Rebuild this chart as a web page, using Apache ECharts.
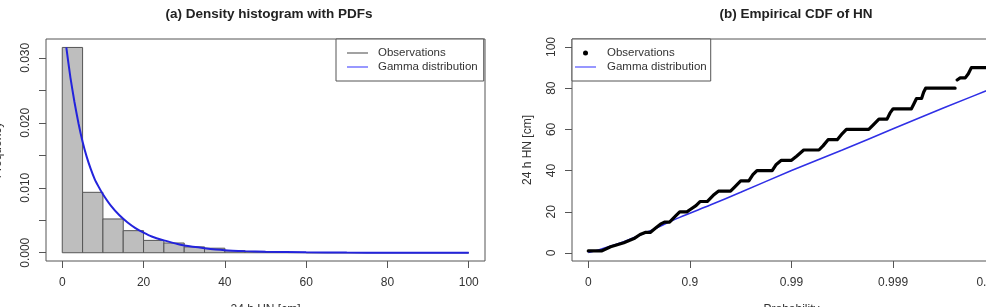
<!DOCTYPE html>
<html><head><meta charset="utf-8">
<script src="https://cdn.jsdelivr.net/npm/echarts@6/dist/echarts.min.js"></script>
<style>html,body{margin:0;padding:0;background:#fff;overflow:hidden}#c{width:986px;height:307px}</style>
</head><body><div id="c"></div>
<script>
// ---------- Panel (a): density histogram with PDFs ----------
const binStarts  = [0,5,10,15,20,25,30,35,40,45,50,55,60,65,70,75,80,85,90,95];
const binEnds    = [5,10,15,20,25,30,35,40,45,50,55,60,65,70,75,80,85,90,95,100];
const binDensity = [0.0316,0.0093,0.0052,0.0034,0.0019,0.0015,0.0009,0.0007,0.0003,0.0002,0.0001,0.00005,0,0,0,0,0,0,0,0];
const pdfX = [1,2,3,4,5,6,7,8,9,10,12,14,16,18,20,22,25,28,30,35,40,45,50,60,70,80,90,100];
const pdfY = [0.0316,0.0270,0.0232,0.0199,0.0171,0.0148,0.0129,0.0113,0.0101,0.0090,0.0072,0.0058,0.0047,0.0038,0.0031,0.0025,0.0019,0.0014,0.0011,0.0007,0.0004,0.00025,0.00015,0.00006,0.00002,0.00001,0,0];
const histXTicks = [0,20,40,60,80,100];
const histYTicks = [0,0.005,0.010,0.015,0.020,0.025,0.030];
const histYLabels = [0,0.010,0.020,0.030];

// ---------- Panel (b): empirical CDF of HN (x = -log10(1-p)) ----------
const cdfT = [0,0.13,0.22,0.35,0.45,0.51,0.56,0.61,0.66,0.71,0.75,0.80,0.86,0.90,0.97,1.00,1.06,1.10,1.17,1.23,1.28,1.40,1.44,1.50,1.58,1.62,1.66,1.81,1.85,1.90,2.00,2.05,2.12,2.27,2.31,2.36,2.45,2.50,2.54,2.76,2.80,2.86,2.94,2.97,3.00,3.18,3.20,3.23,3.28,3.30,3.32,3.61,3.615,3.63,3.66,3.71,3.74,3.77,4.10];
const cdfV = [1,1,3,5,7,9,10,10,12,14,15,15,18,20,20,21,23,25,25,28,30,30,32,35,35,38,40,40,43,45,45,47,50,50,52,55,55,58,60,60,62,65,65,68,70,70,72,75,75,78,80,80,null,84,85,85,87,90,90];
const gammaT = [0,0.1,0.2,0.35,0.58,0.9,1.2,1.5,2.0,2.5,3.0,3.5,4.16];
const gammaV = [0.3,1.5,3.0,5.5,10.2,17.3,23.3,29.5,40.0,50.0,60.3,70.5,83.5];
const probTicks = [0,1,2,3,4];
const probTickLabels = ['0','0.9','0.99','0.999','0.9999'];
const hnTicks = [0,20,40,60,80,100];

const FONT = 'Liberation Sans, Arial, Helvetica, sans-serif';
const TXT = '#333';
const BOX = '#555';

const chart = echarts.init(document.getElementById('c'), null, {renderer: 'canvas'});

const lineIconDark = 'path://M0,0M26,14M0,6.5H21V7.5H0Z';
const lineIconBlueA = 'path://M0,0M26,14M0,6.2H21V7.8H0Z';
const dotIcon = 'path://M0,0M27,14M8,7A2.5,2.5,0,1,1,13,7A2.5,2.5,0,1,1,8,7Z';
const lineIconBlueB = 'path://M0,0M27,14M0,6.3H21V7.7H0Z';

function axisCommon() {
  return {
    type: 'value',
    axisLine: {show: false, onZero: false},
    splitLine: {show: false},
    nameTextStyle: {color: TXT, fontFamily: FONT, fontSize: 12},
    nameLocation: 'middle'
  };
}

const option = {
  animation: false,
  backgroundColor: '#fff',
  title: [
    {text: '(a) Density histogram with PDFs', left: 264, top: 2, textAlign: 'center',
     textStyle: {fontFamily: FONT, fontSize: 13.5, fontWeight: 'bold', color: '#222'}},
    {text: '(b) Empirical CDF of HN', left: 791, top: 2, textAlign: 'center',
     textStyle: {fontFamily: FONT, fontSize: 13.5, fontWeight: 'bold', color: '#222'}}
  ],
  grid: [
    {left: 46, top: 39, width: 439, height: 222, show: true, borderColor: BOX, borderWidth: 1, backgroundColor: 'transparent', outerBoundsMode: 'none'},
    {left: 572, top: 39, width: 439, height: 222, show: true, borderColor: BOX, borderWidth: 1, backgroundColor: 'transparent', outerBoundsMode: 'none'}
  ],
  legend: [
    {orient: 'vertical', left: 336, top: 39, itemWidth: 26, itemHeight: 14, itemGap: 0,
     padding: [7, 6, 7, 11], borderColor: BOX, borderWidth: 1, backgroundColor: '#fff',
     textStyle: {fontFamily: FONT, fontSize: 11.5, color: TXT}, selectedMode: false,
     data: [
       {name: 'Observations', icon: lineIconDark, itemStyle: {color: '#444', borderWidth: 0}},
       {name: 'Gamma distribution', icon: lineIconBlueA, itemStyle: {color: '#7f7fff', borderWidth: 0}}
     ]},
    {orient: 'vertical', left: 572, top: 39, itemWidth: 27, itemHeight: 14, itemGap: 0,
     padding: [7, 4, 7, 3], borderColor: BOX, borderWidth: 1, backgroundColor: '#fff',
     textStyle: {fontFamily: FONT, fontSize: 11.5, color: TXT}, selectedMode: false,
     data: [
       {name: 'Observations', icon: dotIcon, itemStyle: {color: '#000', borderWidth: 0}},
       {name: 'Gamma distribution', icon: lineIconBlueB, itemStyle: {color: '#6a6aff', borderWidth: 0}}
     ]}
  ],
  xAxis: [
    Object.assign(axisCommon(), {
      gridIndex: 0, min: -4, max: 104, name: '24 h HN [cm]', nameGap: 43,
      axisTick: {show: true, length: 7, lineStyle: {color: BOX}, customValues: histXTicks},
      axisLabel: {color: TXT, fontFamily: FONT, fontSize: 12, margin: 16, customValues: histXTicks}
    }),
    Object.assign(axisCommon(), {
      gridIndex: 1, min: -0.16, max: 4.16, name: 'Probability', nameGap: 43,
      axisTick: {show: true, length: 7, lineStyle: {color: BOX}, customValues: probTicks},
      axisLabel: {color: TXT, fontFamily: FONT, fontSize: 12, margin: 16, customValues: probTicks,
                  formatter: v => probTickLabels[probTicks.indexOf(Math.round(v))]}
    })
  ],
  yAxis: [
    Object.assign(axisCommon(), {
      gridIndex: 0, min: -0.00127, max: 0.0329, name: 'Frequency', nameGap: 42,
      axisTick: {show: true, length: 7, lineStyle: {color: BOX}, customValues: histYTicks},
      axisLabel: {color: TXT, fontFamily: FONT, fontSize: 12, margin: 14, rotate: 90, customValues: histYLabels,
                  formatter: v => v.toFixed(3)}
    }),
    Object.assign(axisCommon(), {
      gridIndex: 1, min: -3.88, max: 103.88, name: '24 h HN [cm]', nameGap: 38,
      axisTick: {show: true, length: 7, lineStyle: {color: BOX}, customValues: hnTicks},
      axisLabel: {color: TXT, fontFamily: FONT, fontSize: 12, margin: 14, rotate: 90, customValues: hnTicks}
    })
  ],
  series: [
    {
      name: 'Observations', type: 'custom', xAxisIndex: 0, yAxisIndex: 0,
      data: binStarts.map((s, i) => [s, binEnds[i], binDensity[i]]),
      encode: {x: [0, 1], y: 2},
      renderItem: function (params, api) {
        const p0 = api.coord([api.value(0), 0]);
        const p1 = api.coord([api.value(1), api.value(2)]);
        return {type: 'rect',
          shape: {x: p0[0], y: p1[1], width: p1[0] - p0[0], height: p0[1] - p1[1]},
          style: {fill: '#bebebe', stroke: '#555', lineWidth: 1}};
      },
      itemStyle: {color: '#444'}
    },
    {
      name: 'Gamma distribution', type: 'line', xAxisIndex: 0, yAxisIndex: 0,
      data: pdfX.map((x, i) => [x, pdfY[i]]),
      showSymbol: false, symbol: 'none', smooth: 0.2,
      lineStyle: {color: '#2323dc', width: 2},
      itemStyle: {color: '#2323dc'}
    },
    {
      name: 'Gamma distribution', type: 'line', xAxisIndex: 1, yAxisIndex: 1,
      data: gammaT.map((t, i) => [t, gammaV[i]]),
      showSymbol: false, symbol: 'none', smooth: 0.3,
      lineStyle: {color: '#3030e6', width: 1.6},
      itemStyle: {color: '#3030e6'}
    },
    {
      name: 'Observations', type: 'line', xAxisIndex: 1, yAxisIndex: 1,
      data: cdfT.map((t, i) => [t, cdfV[i] === null ? NaN : cdfV[i]]),
      showSymbol: false, symbol: 'none', connectNulls: false,
      lineStyle: {color: '#000', width: 3.2, cap: 'round', join: 'round'},
      itemStyle: {color: '#000'}
    }
  ]
};
chart.setOption(option);
</script>
</body></html>
